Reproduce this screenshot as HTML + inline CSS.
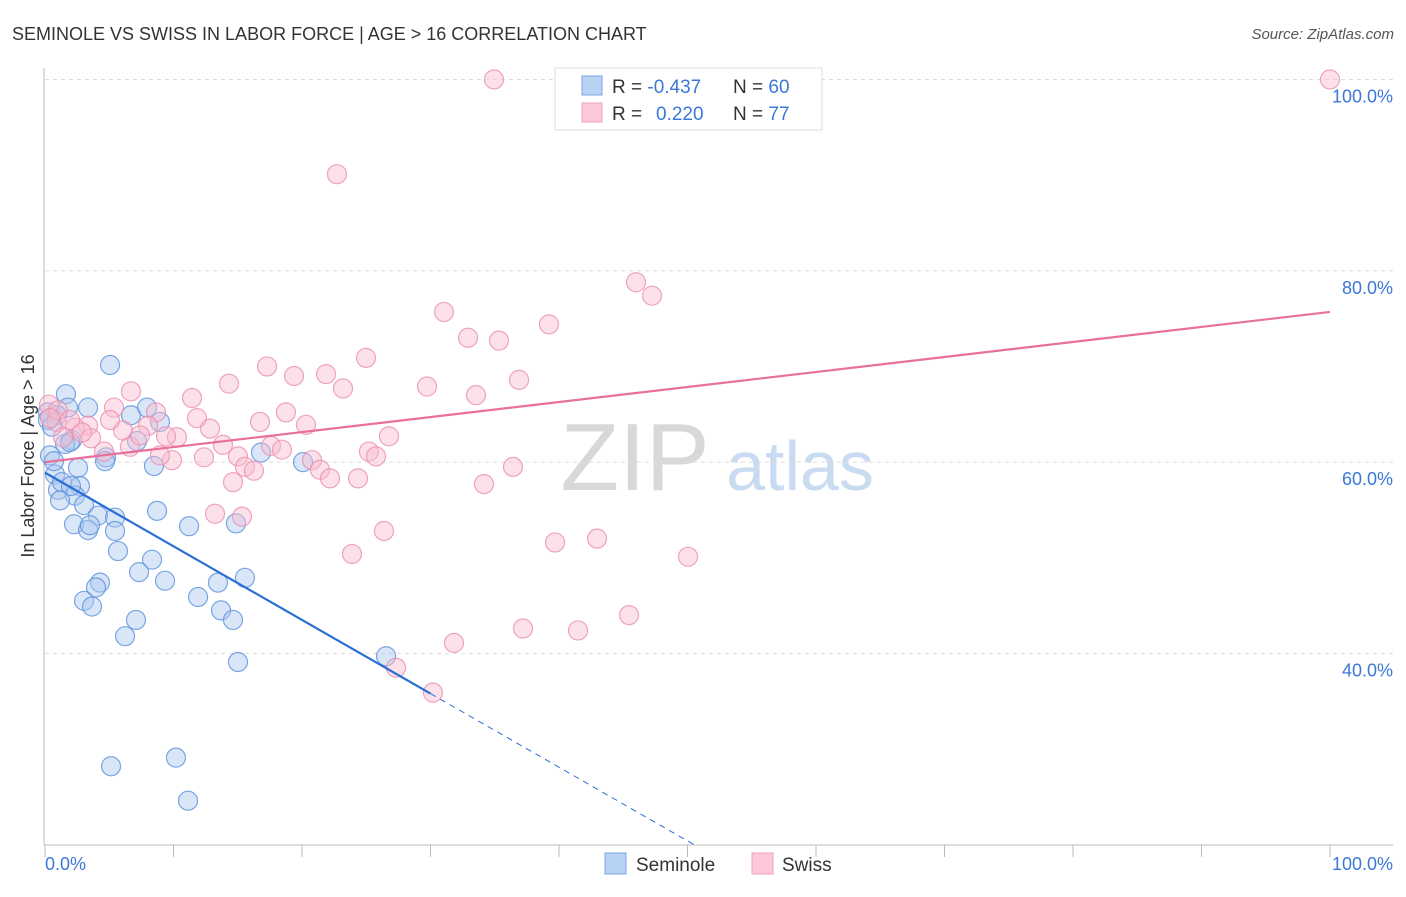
<!DOCTYPE html>
<html><head><meta charset="utf-8"><style>
body{margin:0;background:#fff;font-family:"Liberation Sans",sans-serif}
svg text{font-family:"Liberation Sans",sans-serif}
</style></head><body>
<svg id="c" width="1406" height="892">
<text x="12" y="40" font-size="18" fill="#333">SEMINOLE VS SWISS IN LABOR FORCE | AGE &gt; 16 CORRELATION CHART</text>
<text x="1394" y="39" font-size="15" fill="#555" text-anchor="end" font-style="italic">Source: ZipAtlas.com</text>
<text x="635" y="490" font-size="96" fill="#d8d8d8" text-anchor="middle" font-family="Liberation Serif">ZIP</text>
<text x="800" y="490" font-size="70" fill="#c9dbf1" text-anchor="middle">atlas</text>
<g id="grid"></g><g id="pts"></g><g id="trend"></g>
<text transform="translate(34,456) rotate(-90)" font-size="18" fill="#333" text-anchor="middle">In Labor Force | Age &gt; 16</text>
<text x="45" y="870" font-size="18" fill="#3b78d8">0.0%</text>
<text x="1393" y="870" font-size="18" fill="#3b78d8" text-anchor="end">100.0%</text>
<g>
<rect x="555" y="68" width="267" height="62" fill="#fff" stroke="#ddd"/>
<rect x="582" y="76" width="20" height="19" fill="#b8d2f4" stroke="#7aa6e0"/>
<rect x="582" y="103" width="20" height="19" fill="#fcc8d8" stroke="#eea0b8"/>
<text x="612" y="93" font-size="19" fill="#333">R = <tspan fill="#3b78d8">-0.437</tspan><tspan x="733">N = </tspan><tspan fill="#3b78d8">60</tspan></text>
<text x="612" y="120" font-size="19" fill="#333">R = <tspan x="656" fill="#3b78d8">0.220</tspan><tspan x="733">N = </tspan><tspan fill="#3b78d8">77</tspan></text>
</g>
<g>
<rect x="605" y="853" width="21" height="21" fill="#b8d2f4" stroke="#7aa6e0"/>
<text x="636" y="871" font-size="19" fill="#333">Seminole</text>
<rect x="752" y="853" width="21" height="21" fill="#fcc8d8" stroke="#eea0b8"/>
<text x="782" y="871" font-size="19" fill="#333">Swiss</text>
</g>
</svg>
<script>
const yTicks=[40,60,80,100];
const yTickLabels=["40.0%","60.0%","80.0%","100.0%"];
const seminoleX=[5.06,1.63,3.35,1.79,0.23,7.94,6.69,8.95,0.93,2.10,1.56,7.16,4.75,0.39,8.48,2.57,0.78,2.72,1.01,2.33,3.04,4.12,5.45,8.72,2.26,3.35,5.45,11.21,14.86,5.68,8.33,7.32,9.34,13.46,15.56,4.28,3.97,3.04,3.66,11.91,13.70,14.63,7.08,6.23,15.02,26.54,16.81,20.08,5.14,10.19,11.13,0.23,0.54,1.95,1.32,4.67,0.70,1.17,3.50,2.02];
const seminoleY=[70.15,67.1,65.7,65.7,65.2,65.7,64.9,64.2,64.9,62.3,61.9,62.2,60.5,60.7,59.6,59.4,58.7,57.5,57.1,56.5,55.5,54.4,54.2,54.9,53.5,52.9,52.8,53.3,53.6,50.7,49.8,48.5,47.6,47.4,47.9,47.4,46.9,45.5,44.9,45.9,44.5,43.5,43.5,41.8,39.1,39.7,61.0,60.0,28.2,29.1,24.6,64.4,63.7,62.1,57.9,60.1,60.1,56.0,53.4,57.5];
const swissX=[34.94,100,22.72,45.99,47.24,31.05,39.22,32.92,35.33,24.98,17.28,19.38,21.87,6.69,14.32,11.44,5.37,8.64,18.75,29.73,33.54,36.89,23.19,16.73,11.83,12.84,10.27,9.42,3.35,6.07,0.93,2.33,0.31,1.40,3.58,8.02,4.59,6.61,20.31,17.59,18.44,15.02,13.85,9.88,12.37,26.77,25.21,25.76,15.56,16.26,20.78,21.40,22.18,24.36,14.63,13.23,15.33,34.16,36.42,26.38,23.89,39.69,42.96,50.04,37.20,41.48,45.45,31.83,27.32,30.19,1.01,1.95,7.39,0.39,5.06,2.88,8.95];
const swissY=[100,100,90.1,78.8,77.4,75.7,74.4,73.0,72.7,70.9,70.0,69.0,69.2,67.4,68.2,66.7,65.7,65.2,65.2,67.9,67.0,68.6,67.7,64.2,64.6,63.5,62.6,62.7,63.8,63.3,64.2,63.6,66.0,62.6,62.5,63.8,61.1,61.6,63.9,61.7,61.3,60.6,61.8,60.2,60.5,62.7,61.1,60.6,59.5,59.1,60.2,59.2,58.3,58.3,57.9,54.6,54.3,57.7,59.5,52.8,50.4,51.6,52.0,50.1,42.6,42.4,44.0,41.1,38.5,35.9,65.4,64.4,62.8,64.6,64.4,63.1,60.7];
const seminoleTrend=[58.9,-0.77];
const swissTrend=[60.0,0.157];
const X=v=>45+v*12.85, Y=v=>1036-v*9.565;
const NS="http://www.w3.org/2000/svg";
function mk(tag,attrs,parent){const e=document.createElementNS(NS,tag);for(const k in attrs)e.setAttribute(k,attrs[k]);document.getElementById(parent).appendChild(e);return e;}
// axes
let a=mk('line',{x1:44,y1:68,x2:44,y2:845,stroke:'#bbb'},'grid');


a=mk('line',{x1:44,y1:845,x2:1393,y2:845,stroke:'#bbb'},'grid');


for(let i=0;i<=10;i++){const t=mk('line',{x1:X(i*10),y1:845,x2:X(i*10),y2:857,stroke:'#bbb'},'grid');

}
yTicks.forEach((v,i)=>{const g=mk('line',{x1:45,y1:Y(v),x2:1393,y2:Y(v),stroke:'#ddd','stroke-dasharray':'4,4'},'grid');


const t=mk('text',{x:1393,y:Y(v)+23,'font-size':18,fill:'#3b78d8','text-anchor':'end'},'grid');
t.textContent=yTickLabels[i];

});
function pts(xs,ys,fill,stroke,name){xs.forEach((x,i)=>{const c=mk('circle',{cx:X(x),cy:Y(ys[i]),r:9.5,fill:fill,'fill-opacity':0.45,stroke:stroke,'stroke-opacity':0.8,'stroke-width':1.2},'pts');

});}
pts(seminoleX,seminoleY,'#aac8f0','#5b91dc','seminole-point');
pts(swissX,swissY,'#f9bdd0','#eb8fae','swiss-point');
const bf=x=>seminoleTrend[0]+seminoleTrend[1]*x, pf=x=>swissTrend[0]+swissTrend[1]*x;
let l=mk('line',{x1:X(0),y1:Y(bf(0)),x2:X(30),y2:Y(bf(30)),stroke:'#2a6fd6','stroke-width':2.2},'trend');


const xe=(20-seminoleTrend[0])/seminoleTrend[1];
l=mk('line',{x1:X(30),y1:Y(bf(30)),x2:X(xe),y2:Y(20),stroke:'#2a6fd6','stroke-width':1,'stroke-dasharray':'6,5'},'trend');


l=mk('line',{x1:X(0),y1:Y(pf(0)),x2:X(100),y2:Y(pf(100)),stroke:'#e8709a','stroke-width':2.2},'trend');


</script>
</body></html>
